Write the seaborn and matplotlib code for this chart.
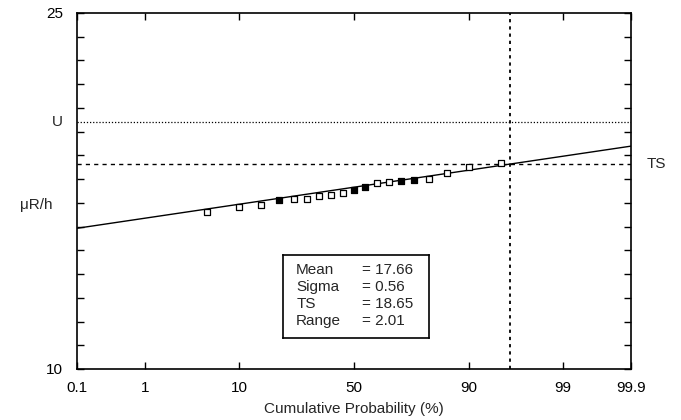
import numpy as np
import pandas as pd
import matplotlib
matplotlib.use("Agg")
import matplotlib.pyplot as plt
import seaborn as sns
from statistics import NormalDist

# ---- data ----
cum_prob = [5, 10, 15, 20, 25, 30, 35, 40, 45, 50, 55, 60, 65, 70, 75, 80, 85, 90, 95]
dose = [16.63, 16.84, 16.91, 17.12, 17.16, 17.16, 17.29, 17.33, 17.43, 17.54,
        17.68, 17.85, 17.89, 17.92, 17.96, 17.99, 18.25, 18.52, 18.67]
filled = [False, False, False, True, False, False, False, False, False, True,
          True, False, False, True, True, False, False, False, False]
mean_val = 17.66
sigma_val = 0.56
ts_val = 18.65
range_val = 2.01
u_val = 20.4
ts_prob = 95.9
x_ticks = [0.1, 1, 10, 50, 90, 99, 99.9]
x_ticklabels = ["0.1", "1", "10", "50", "90", "99", "99.9"]
fit_probs = [0.1, 99.9]

nd = NormalDist()
_ppf = np.vectorize(lambda v: nd.inv_cdf(v / 100.0), otypes=[float])
_cdf = np.vectorize(lambda v: nd.cdf(v) * 100.0, otypes=[float])

def fwd(p):
    p = np.clip(np.asarray(p, dtype=float), 1e-6, 100 - 1e-6)
    return _ppf(p)

def inv(z):
    return _cdf(np.asarray(z, dtype=float))

sns.set_style("ticks")
plt.rcParams['font.family'] = ['Liberation Sans', 'DejaVu Sans']
FS = 11

fig = plt.figure(figsize=(6.81, 4.20), dpi=100)
ax = fig.add_axes([77/681, 51/420, 554/681, 356/420])
ax.set_xscale('function', functions=(fwd, inv))
ax.set_xlim(0.1, 99.9)
ax.set_ylim(10, 25)

df = pd.DataFrame({"p": cum_prob, "v": dose, "f": filled})
fit_df = pd.DataFrame({"p": fit_probs,
                       "v": [mean_val + sigma_val * nd.inv_cdf(p / 100) for p in fit_probs]})

sns.lineplot(data=fit_df, x="p", y="v", ax=ax, color="black", lw=1.0, zorder=3)
sns.scatterplot(data=df[~df.f], x="p", y="v", ax=ax, marker="s", s=14,
                facecolor="white", edgecolor="black", linewidth=0.9, zorder=4)
sns.scatterplot(data=df[df.f], x="p", y="v", ax=ax, marker="s", s=14,
                color="black", edgecolor="black", linewidth=0.9, zorder=4)

ax.axhline(u_val, color="black", lw=0.9, ls=(0, (1, 1.5)))
ax.axhline(ts_val, color="black", lw=1.0, ls=(0, (3, 3)))
ax.axvline(ts_prob, color="black", lw=1.3, ls=(0, (1.8, 2.2)))

ax.set_xlim(0.1, 99.9)
ax.set_ylim(10, 25)
ax.set_xticks(x_ticks)
ax.set_xticklabels(x_ticklabels)
ax.set_yticks(np.arange(10, 26, 1))
ax.set_yticklabels(["10"] + [""] * 14 + ["25"])
ax.tick_params(direction="in", length=5, width=1, top=True, right=True,
               labelsize=FS, colors="black")
ax.tick_params(axis="x", pad=9)
ax.tick_params(axis="y", pad=10)
ax.set_xlabel("Cumulative Probability (%)", fontsize=FS, labelpad=5)
ax.set_ylabel("")
for s in ax.spines.values():
    s.set_linewidth(1.2)
    s.set_color("black")

ax.text(-0.025, u_val, "U", transform=ax.get_yaxis_transform(), ha="right",
        va="center", fontsize=FS)
ax.text(-0.044, 16.9, "\u03bcR/h", transform=ax.get_yaxis_transform(), ha="right",
        va="center", fontsize=FS)
ax.text(1.028, ts_val, "TS", transform=ax.get_yaxis_transform(), ha="left",
        va="center", fontsize=FS)

# stats box
box_ax = fig.add_axes([283/681, (420-338)/420, 146/681, 83/420])
box_ax.set_xticks([]); box_ax.set_yticks([])
box_ax.set_facecolor("white")
for s in box_ax.spines.values():
    s.set_linewidth(1.2); s.set_color("black")
names = ["Mean", "Sigma", "TS", "Range"]
vals = [f"{mean_val:.2f}", f"{sigma_val:.2f}", f"{ts_val:.2f}", f"{range_val:.2f}"]
for i, (n, v) in enumerate(zip(names, vals)):
    yy = 0.82 - i * 0.205
    box_ax.text(0.09, yy, n, fontsize=FS, va="center", ha="left")
    box_ax.text(0.54, yy, "= " + v, fontsize=FS, va="center", ha="left")

fig.savefig("out.png", dpi=100)
